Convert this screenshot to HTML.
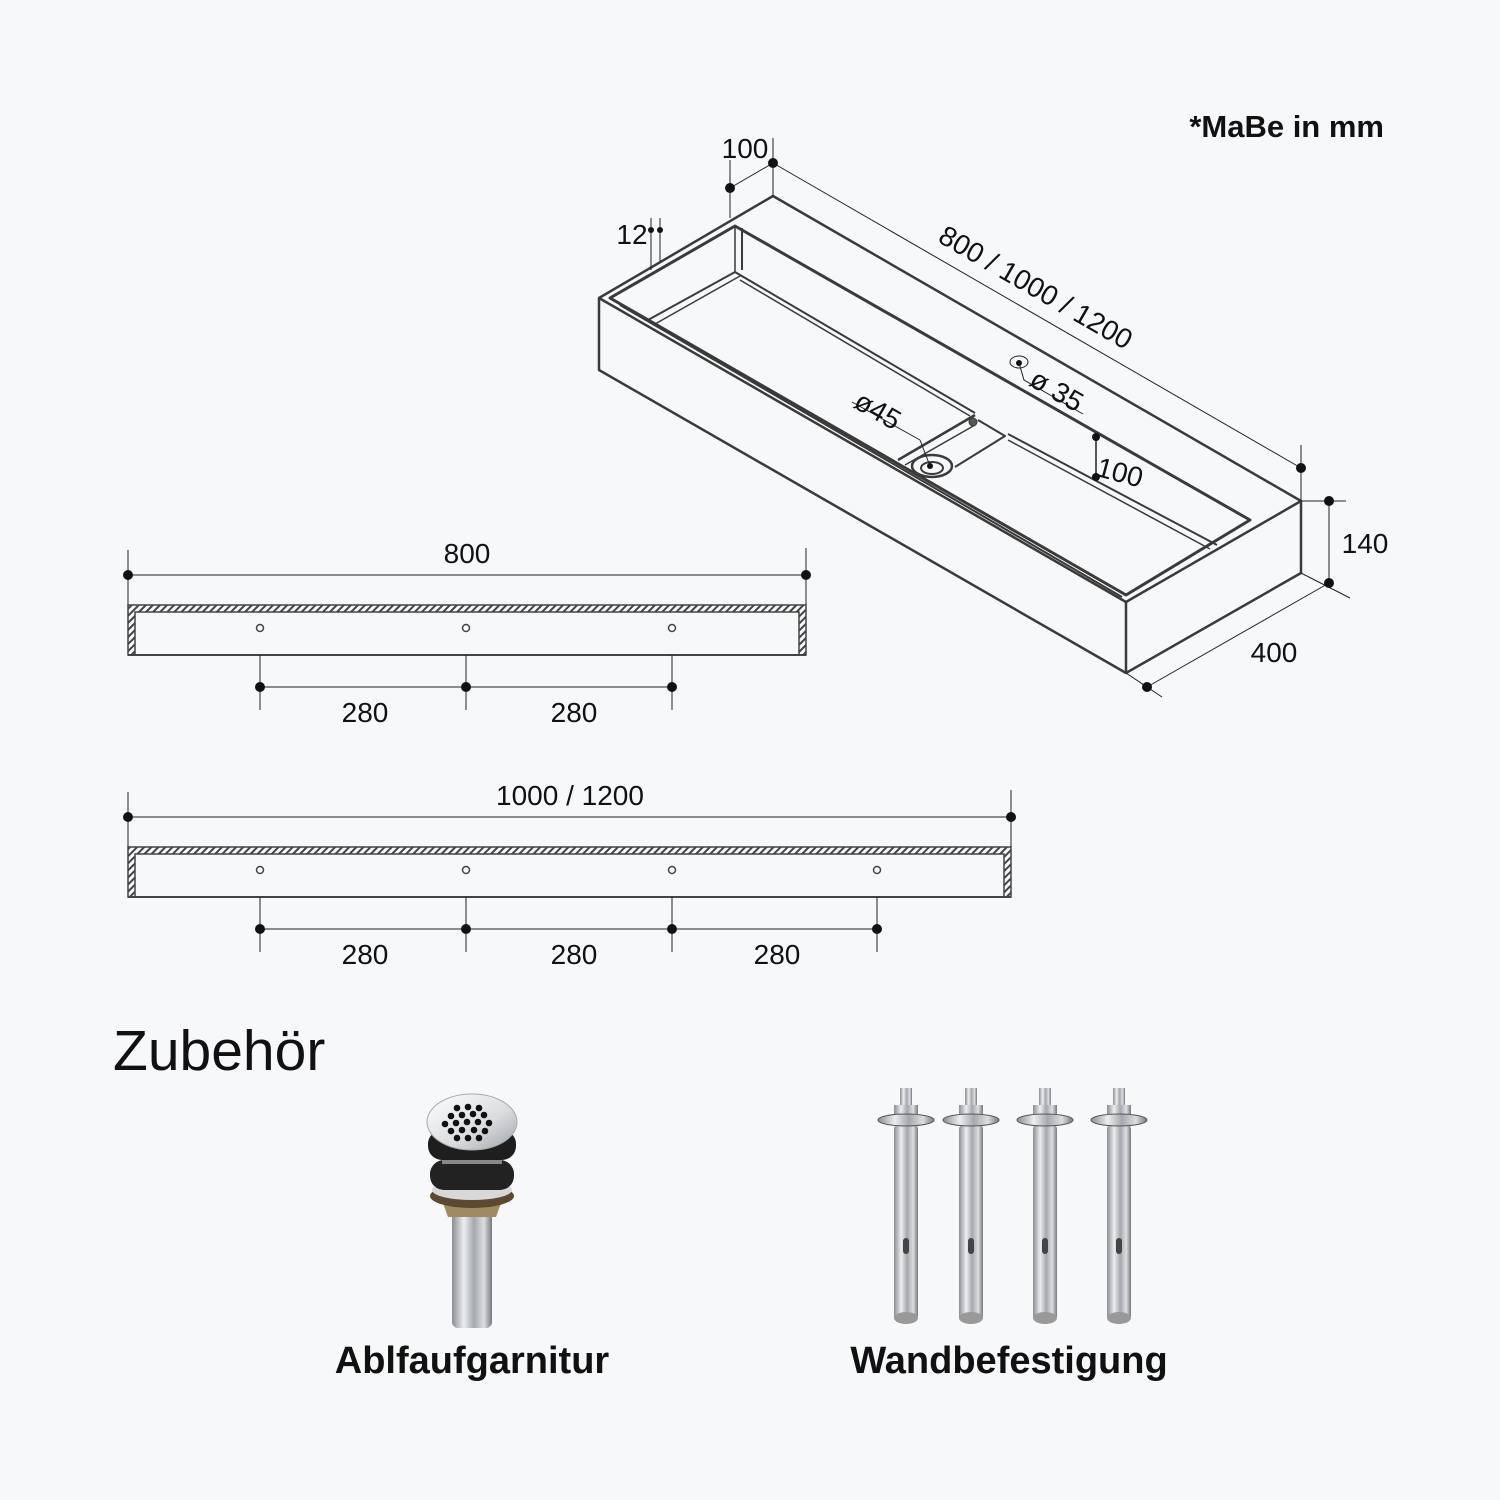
<!DOCTYPE html>
<html><head><meta charset="utf-8"><style>
html,body{margin:0;padding:0;background:#f7f8fa;}
svg{display:block;}
text{font-family:"Liberation Sans",sans-serif;fill:#111;}
</style></head><body>
<svg width="1500" height="1500" viewBox="0 0 1500 1500" xmlns="http://www.w3.org/2000/svg">
<defs>
<pattern id="hatch" width="5" height="5" patternUnits="userSpaceOnUse" patternTransform="rotate(45)">
<rect width="5" height="5" fill="#f7f8fa"/><rect width="2" height="5" fill="#444"/></pattern>
<linearGradient id="metal" x1="0" x2="1"><stop offset="0" stop-color="#8a8d92"/><stop offset="0.3" stop-color="#eceef0"/><stop offset="0.55" stop-color="#a4a8ad"/><stop offset="0.8" stop-color="#dcdee1"/><stop offset="1" stop-color="#75787d"/></linearGradient>
<linearGradient id="cap" x1="0" x2="1" y1="0" y2="1"><stop offset="0" stop-color="#fff"/><stop offset="0.6" stop-color="#d9dbde"/><stop offset="1" stop-color="#9ea2a6"/></linearGradient>
</defs>
<rect width="1500" height="1500" fill="#f7f8fa"/>

<g fill="none" stroke="#3a3a3a" stroke-linejoin="round">
<polygon points="599,298 773,196 1301,501 1301,573 1126,673 599,370" fill="#f7f8fa" stroke-width="2.5"/>
<polyline points="599,298 1126,602 1301,501" stroke-width="2.5"/>
<line x1="1126" y1="602" x2="1126" y2="673" stroke-width="2.5"/>
<polygon points="610,298 735,226 1250,520 1126,595" stroke-width="3"/>
<polyline points="742,228 742,270" stroke-width="2"/>
<polyline points="735,226 735,272" stroke-width="1.5"/>
<polyline points="735,272 648,320" stroke-width="2"/>
<polyline points="740,276 655,324" stroke-width="1.5"/>
<polyline points="735,272 975,413" stroke-width="2"/>
<polyline points="740,280 970,416" stroke-width="1.5"/>
<polyline points="620,305 1122,597" stroke-width="2"/>
<polyline points="975,415 898,460" stroke-width="2.5"/>
<polyline points="975,425 905,465" stroke-width="1.5"/>
<polyline points="978,420 1005,436 955,467" stroke-width="2"/>
<polyline points="1008,434 1217,545" stroke-width="2"/>
<polyline points="1008,440 1210,549" stroke-width="1.5"/>
<ellipse cx="932" cy="466" rx="20" ry="11" stroke-width="2.5"/>
<ellipse cx="932" cy="468" rx="11" ry="6" stroke-width="2"/>
<circle cx="973" cy="422" r="4" fill="#555"/>
</g>
<g stroke="#222" stroke-width="1" fill="none">
<line x1="730" y1="160" x2="730" y2="218"/>
<line x1="773" y1="138" x2="773" y2="196"/>
<line x1="730" y1="188" x2="773" y2="163"/>
<line x1="773" y1="163" x2="1301" y2="468"/>
<line x1="1301" y1="445" x2="1301" y2="501"/>
<line x1="651" y1="218" x2="651" y2="270"/>
<line x1="660" y1="218" x2="660" y2="262"/>
<line x1="1301" y1="501" x2="1346" y2="501"/>
<line x1="1301" y1="573" x2="1350" y2="598"/>
<line x1="1329" y1="501" x2="1329" y2="583"/>
<line x1="1126" y1="673" x2="1162" y2="697"/>
<line x1="1147" y1="687" x2="1329" y2="583"/>
<line x1="1096" y1="437" x2="1096" y2="477" stroke-width="1.5"/>
<ellipse cx="1019" cy="362" rx="9" ry="6"/>
<polyline points="1019,363 1024,380 1083,414"/>
<line x1="852" y1="402" x2="920" y2="440"/>
<line x1="920" y1="440" x2="930" y2="466"/>
</g>
<g fill="#111">
<circle cx="730" cy="188" r="5"/><circle cx="773" cy="163" r="5"/>
<circle cx="1301" cy="468" r="5"/><circle cx="651" cy="230" r="3"/><circle cx="660" cy="230" r="3"/>
<circle cx="1329" cy="501" r="5"/><circle cx="1329" cy="583" r="5"/><circle cx="1147" cy="687" r="5"/>
<circle cx="1096" cy="437" r="4"/><circle cx="1096" cy="477" r="4"/>
<circle cx="1019" cy="363" r="3"/><circle cx="930" cy="466" r="3"/>
</g>
<g font-size="28">
<text x="745" y="158" text-anchor="middle">100</text>
<text x="632" y="244" text-anchor="middle">12</text>
<text x="1036" y="297" text-anchor="middle" transform="rotate(30 1036 287)">800 / 1000 / 1200</text>
<text x="1365" y="553" text-anchor="middle">140</text>
<text x="1274" y="662" text-anchor="middle">400</text>
<text x="1120" y="482" text-anchor="middle" transform="rotate(15 1120 472)">100</text>
<text x="1057" y="400" text-anchor="middle" transform="rotate(30 1057 390)">ø 35</text>
<text x="878" y="420" text-anchor="middle" transform="rotate(30 878 410)">ø45</text>
</g>

<g>
<path d="M128,605 H806 V655 H799 V612 H135 V655 H128 Z" fill="url(#hatch)" stroke="#444" stroke-width="1.5"/>
<line x1="128" y1="655" x2="806" y2="655" stroke="#444" stroke-width="2"/>
<g fill="none" stroke="#444" stroke-width="1.5"><circle cx="260" cy="628" r="3.5"/><circle cx="466" cy="628" r="3.5"/><circle cx="672" cy="628" r="3.5"/></g>
<g stroke="#222" stroke-width="1">
<line x1="128" y1="550" x2="128" y2="605"/><line x1="806" y1="548" x2="806" y2="605"/>
<line x1="128" y1="575" x2="806" y2="575"/>
<line x1="260" y1="655" x2="260" y2="710"/><line x1="466" y1="655" x2="466" y2="710"/><line x1="672" y1="655" x2="672" y2="710"/>
<line x1="260" y1="687" x2="672" y2="687"/>
</g>
<g fill="#111"><circle cx="128" cy="575" r="5"/><circle cx="806" cy="575" r="5"/><circle cx="260" cy="687" r="5"/><circle cx="466" cy="687" r="5"/><circle cx="672" cy="687" r="5"/></g>
<g font-size="28" text-anchor="middle"><text x="467" y="563">800</text><text x="365" y="722">280</text><text x="574" y="722">280</text></g>
</g>

<g>
<path d="M128,847 H1011 V897 H1004 V854 H135 V897 H128 Z" fill="url(#hatch)" stroke="#444" stroke-width="1.5"/>
<line x1="128" y1="897" x2="1011" y2="897" stroke="#444" stroke-width="2"/>
<g fill="none" stroke="#444" stroke-width="1.5"><circle cx="260" cy="870" r="3.5"/><circle cx="466" cy="870" r="3.5"/><circle cx="672" cy="870" r="3.5"/><circle cx="877" cy="870" r="3.5"/></g>
<g stroke="#222" stroke-width="1">
<line x1="128" y1="792" x2="128" y2="847"/><line x1="1011" y1="790" x2="1011" y2="847"/>
<line x1="128" y1="817" x2="1011" y2="817"/>
<line x1="260" y1="897" x2="260" y2="952"/><line x1="466" y1="897" x2="466" y2="952"/><line x1="672" y1="897" x2="672" y2="952"/><line x1="877" y1="897" x2="877" y2="952"/>
<line x1="260" y1="929" x2="877" y2="929"/>
</g>
<g fill="#111"><circle cx="128" cy="817" r="5"/><circle cx="1011" cy="817" r="5"/><circle cx="260" cy="929" r="5"/><circle cx="466" cy="929" r="5"/><circle cx="672" cy="929" r="5"/><circle cx="877" cy="929" r="5"/></g>
<g font-size="28" text-anchor="middle"><text x="570" y="805">1000 / 1200</text><text x="365" y="964">280</text><text x="574" y="964">280</text><text x="777" y="964">280</text></g>
</g>

<text x="1384" y="137" font-size="31" font-weight="bold" text-anchor="end">*MaBe in mm</text>
<text x="113" y="1070" font-size="57">Zubehör</text>
<text x="472" y="1373" font-size="38" font-weight="bold" text-anchor="middle">Ablfaufgarnitur</text>
<text x="1009" y="1373" font-size="38" font-weight="bold" text-anchor="middle">Wandbefestigung</text>

<g>
<rect x="452" y="1210" width="40" height="118" rx="6" fill="url(#metal)"/>
<path d="M440,1195 h64 l-8,22 h-48 z" fill="#a08a60"/>
<ellipse cx="472" cy="1196" rx="42" ry="12" fill="#5c4a30"/>
<ellipse cx="472" cy="1190" rx="40" ry="10" fill="#d8d8d8"/>
<rect x="430" y="1160" width="84" height="30" rx="14" fill="#222"/>
<rect x="442" y="1150" width="60" height="14" fill="#888"/>
<rect x="428" y="1130" width="88" height="30" rx="14" fill="#1e1e1e"/>
<ellipse cx="472" cy="1122" rx="45" ry="28" fill="url(#cap)" stroke="#aaa"/>
<g fill="#111">
<circle cx="457" cy="1108" r="3.3"/><circle cx="468" cy="1107" r="3.3"/><circle cx="479" cy="1108" r="3.3"/>
<circle cx="451" cy="1116" r="3.3"/><circle cx="462" cy="1115" r="3.3"/><circle cx="473" cy="1114" r="3.3"/><circle cx="484" cy="1115" r="3.3"/>
<circle cx="445" cy="1124" r="3.3"/><circle cx="456" cy="1123" r="3.3"/><circle cx="467" cy="1122" r="3.3"/><circle cx="478" cy="1122" r="3.3"/><circle cx="489" cy="1123" r="3.3"/>
<circle cx="451" cy="1131" r="3.3"/><circle cx="462" cy="1130" r="3.3"/><circle cx="474" cy="1130" r="3.3"/><circle cx="485" cy="1131" r="3.3"/>
<circle cx="457" cy="1138" r="3.3"/><circle cx="468" cy="1138" r="3.3"/><circle cx="479" cy="1138" r="3.3"/>
</g>
</g>

<g id="bolt">
<rect x="894" y="1125" width="24" height="195" rx="4" fill="url(#metal)"/>
<ellipse cx="906" cy="1318" rx="12" ry="6" fill="#999"/>
<rect x="903" y="1238" width="6" height="16" rx="3" fill="#444"/>
<rect x="900" y="1088" width="12" height="22" fill="url(#metal)"/>
<rect x="894" y="1105" width="24" height="13" fill="url(#metal)"/>
<ellipse cx="906" cy="1120" rx="28" ry="6" fill="url(#metal)" stroke="#555"/>
</g>
<use href="#bolt" x="65"/>
<use href="#bolt" x="139"/>
<use href="#bolt" x="213"/>
</svg>
</body></html>
